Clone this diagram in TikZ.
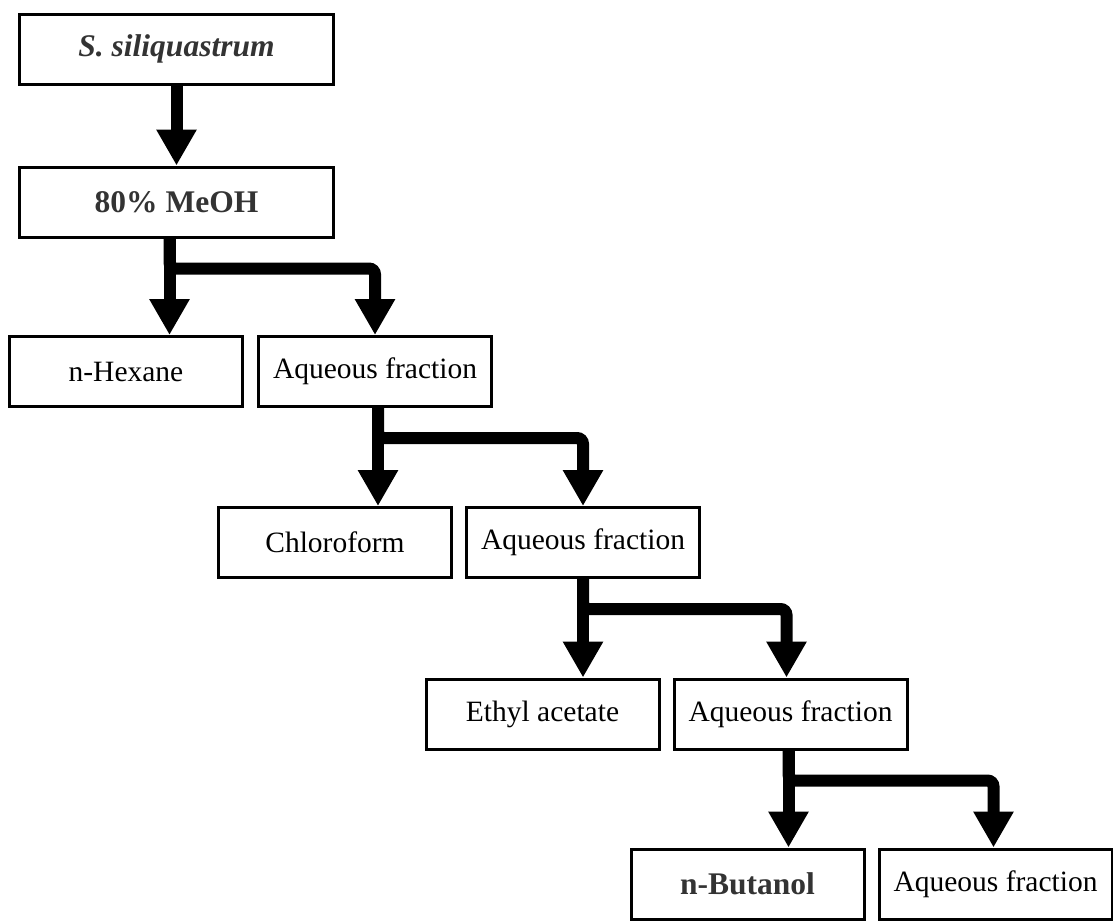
\documentclass[tikz,border=0pt]{standalone}
\usepackage{fontspec}
\setmainfont{Liberation Serif}
\usetikzlibrary{positioning,arrows.meta}

\begin{document}
\begin{tikzpicture}[x=1pt, y=-1pt,
    every node/.style = {draw, line width=3pt, inner sep=0pt, minimum width=233pt, minimum height=70pt, font=\fontsize{29.5}{32}\selectfont},
    headbox/.style = {minimum width=314pt, font=\fontsize{31.5}{34}\selectfont\bfseries, text=black!80},
    flowarrow/.style = {line width=12pt, -{Triangle[width=38pt, length=36pt]}}]
    \useasboundingbox (0,0) rectangle (1113,922);
    \node[headbox] (S) at (176.5,49) {\textit{S. siliquastrum}};
    \node[headbox] (MeOH) [below = 80pt of S] {80\% MeOH};
    \node (hex) at (126,371.5) {n-Hexane};
    \node (aq1) [right = 13pt of hex] {Aqueous fraction};
    \node (chl) at (335,542.5) {Chloroform};
    \node (aq2) [right = 12pt of chl] {Aqueous fraction};
    \node (eth) at (542.5,714) {Ethyl acetate};
    \node (aq3) [right = 12pt of eth] {Aqueous fraction};
    \node[font=\fontsize{31.5}{34}\selectfont\bfseries, text=black!80] (but) at (747.5,884) {n-Butanol};
    \node (aq4) [right = 12pt of but] {Aqueous fraction};
    \draw[flowarrow] (S) -- (MeOH);
    % partition steps
    \draw[flowarrow] ([xshift=-7pt]MeOH.south) -- ([xshift=-7pt]MeOH.south |- hex.north);
    \draw[flowarrow, rounded corners=6pt] ([xshift=-7pt]MeOH.south) -- ++(0,30) -| (aq1.north);
    \draw[flowarrow] ([xshift=3pt]aq1.south) -- ([xshift=3pt]aq1.south |- chl.north);
    \draw[flowarrow, rounded corners=6pt] ([xshift=3pt]aq1.south) -- ++(0,30) -| (aq2.north);
    \draw[flowarrow] (aq2.south) -- (aq2.south |- eth.north);
    \draw[flowarrow, rounded corners=6pt] (aq2.south) -- ++(0,30) -| ([xshift=-4pt]aq3.north);
    \draw[flowarrow] ([xshift=-2pt]aq3.south) -- ([xshift=-2pt]aq3.south |- but.north);
    \draw[flowarrow, rounded corners=6pt] ([xshift=-2pt]aq3.south) -- ++(0,30) -| ([xshift=-2pt]aq4.north);
\end{tikzpicture}
\end{document}
